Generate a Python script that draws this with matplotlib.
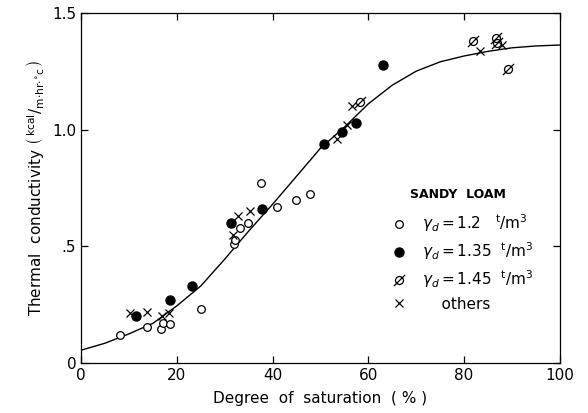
import matplotlib.pyplot as plt
from matplotlib.path import Path

plt.rcParams['font.family'] = ['DejaVu Sans']
plt.rcParams['mathtext.fontset'] = 'dejavusans'

# gamma_d = 1.2 t/m3 (open circles)
open_x = [8.1, 13.8, 16.7, 17.0, 18.6, 25.1, 32.0, 32.2, 33.2, 34.9, 37.6, 40.9, 44.9, 47.8]
open_y = [0.12, 0.155, 0.146, 0.17, 0.167, 0.23, 0.51, 0.525, 0.58, 0.60, 0.77, 0.67, 0.70, 0.725]

# gamma_d = 1.35 t/m3 (filled circles)
fill_x = [11.5, 18.6, 23.2, 31.3, 37.8, 50.7, 54.5, 57.4, 63.0]
fill_y = [0.20, 0.27, 0.33, 0.60, 0.66, 0.94, 0.99, 1.03, 1.275]

# gamma_d = 1.45 t/m3 (slashed circles)
slash_x = [58.2, 81.8, 86.6, 86.8, 89.1]
slash_y = [1.12, 1.38, 1.39, 1.37, 1.26]

# others (crosses)
cross_x = [10.2, 13.8, 16.9, 18.4, 31.7, 32.8, 35.3, 53.4, 55.5, 56.6, 83.3, 87.9]
cross_y = [0.215, 0.22, 0.20, 0.215, 0.55, 0.63, 0.65, 0.96, 1.02, 1.10, 1.335, 1.36]

# fitted curve
curve_x = [0, 5, 10, 15, 20, 25, 30, 35, 40, 45, 50, 55, 60, 65, 70, 75, 80, 85, 90, 95, 100]
curve_y = [0.055, 0.085, 0.125, 0.17, 0.245, 0.33, 0.445, 0.565, 0.68, 0.80, 0.92, 1.01, 1.11, 1.19, 1.25, 1.29, 1.315, 1.335, 1.35, 1.358, 1.362]

xticks = [0, 20, 40, 60, 80, 100]
yticks = [0, 0.5, 1.0, 1.5]
yticklabels = ['0', '.5', '1.0', '1.5']

# circle with a slash through it
slashed = Path.make_compound_path(
    Path.unit_circle(),
    Path([(-1.4, -1.4), (1.4, 1.4)], [Path.MOVETO, Path.LINETO]))

fig = plt.figure(figsize=(5.88, 4.13), dpi=100)
ax = fig.add_axes([0.138, 0.121, 0.814, 0.848])

ax.plot(curve_x, curve_y, color='black', lw=1.0)
h1, = ax.plot(open_x, open_y, 'o', ms=5.5, mfc='white', mec='black', mew=0.9, ls='none')
h2, = ax.plot(fill_x, fill_y, 'o', ms=6.5, mfc='black', mec='black', ls='none')
h3, = ax.plot(slash_x, slash_y, marker=slashed, ms=8, mfc='none', mec='black', mew=0.9, ls='none')
h4, = ax.plot(cross_x, cross_y, 'x', ms=6, mec='black', mew=0.9, ls='none')

ax.set_xlim(0, 100)
ax.set_ylim(0, 1.5)
ax.set_xticks(xticks)
ax.set_yticks(yticks)
ax.set_yticklabels(yticklabels)
ax.tick_params(direction='in', top=True, right=True, length=5, labelsize=11, width=0.9)
for s in ax.spines.values():
    s.set_linewidth(0.9)

ax.set_xlabel('Degree  of  saturation  ( % )', fontsize=11, labelpad=6)
ax.set_ylabel(r'Thermal  conductivity $\left(\,^{\mathrm{kcal}}/_{\mathrm{m{\cdot}hr{\cdot}^{\circ}c}}\,\right)$',
              fontsize=11, labelpad=4)

labels = [r'$\gamma_d = 1.2$   $^{\mathrm{t}}/\mathrm{m}^3$',
          r'$\gamma_d = 1.35$  $^{\mathrm{t}}/\mathrm{m}^3$',
          r'$\gamma_d = 1.45$  $^{\mathrm{t}}/\mathrm{m}^3$',
          '    others']
ax.text(78.7, 0.721, 'SANDY  LOAM', fontsize=9, fontweight='bold', ha='center', va='center')
leg = ax.legend([h1, h2, h3, h4], labels, frameon=False,
                loc='upper left', bbox_to_anchor=(0.62, 0.47), fontsize=11,
                handletextpad=1.0, labelspacing=0.42, handlelength=1.0)

fig.savefig('out.png', dpi=100)
